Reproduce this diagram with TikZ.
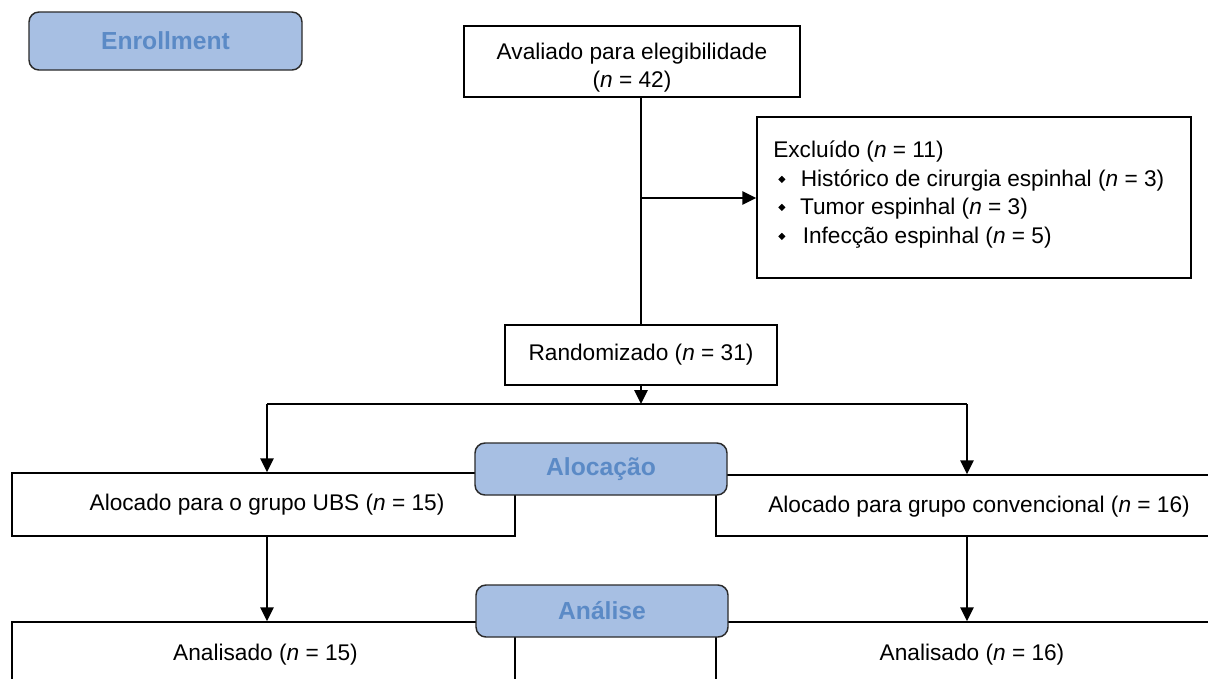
\documentclass[tikz,border=0pt]{standalone}
\usepackage{fontspec}
\setmainfont{Liberation Sans}
\usetikzlibrary{arrows.meta}
\definecolor{hdrfill}{HTML}{A7BFE3}
\definecolor{hdrtext}{HTML}{5B8AC6}
\definecolor{hdrline}{HTML}{2B2B2B}
\newcommand\bul{\raisebox{0.25ex}{\rotatebox{45}{\rule{3.8pt}{3.8pt}}}}
\newcommand\nn{\textit{n}}
\begin{document}
\begin{tikzpicture}[x=0.75pt,y=-0.75pt,
  box/.style={draw=black, line width=1.1pt, inner sep=0pt, font=\fontsize{17}{20}\selectfont},
  hdr/.style={draw=hdrline, fill=hdrfill, rounded corners=7.5pt, line width=1.1pt,
     font=\fontsize{18.5}{22}\selectfont\bfseries, text=hdrtext, inner sep=0pt},
  txt/.style={font=\fontsize{17}{20}\selectfont, inner sep=0pt},
  conn/.style={line width=1.3pt, draw=black},
  arr/.style={conn, -{Triangle[length=10.5pt,width=10pt]}}]
\clip (0,0) rectangle (1208,679);
\fill[white] (0,0) rectangle (1208,679);

% headers (enrollment)
\node[hdr, minimum width=204.75pt, minimum height=43.5pt] (enr) at (165.5,41) {Enrollment};

% top boxes
\node[box, minimum width=252pt, minimum height=53.25pt] (ava) at (632,61.5) {};
\node[txt, align=center, font=\fontsize{17}{21}\selectfont] (avat) at (632,68) {Avaliado para elegibilidade\\(\nn{} = 42)};

\node[box, minimum width=325.5pt, minimum height=120.75pt] (exc) at (974,197.5) {};
\node[txt, anchor=base west] (ex1) at (773,157) {Excluído (\nn{} = 11)};
\node[txt, anchor=base west] (ex2) at (778,186) {\bul\hspace{11.5pt}Histórico de cirurgia espinhal (\nn{} = 3)};
\node[txt, anchor=base west] (ex3) at (778,214) {\bul\hspace{11pt}Tumor espinhal (\nn{} = 3)};
\node[txt, anchor=base west] (ex4) at (778,243) {\bul\hspace{13pt}Infecção espinhal (\nn{} = 5)};

\node[box, minimum width=204pt, minimum height=45pt] (rand) at (641,355) {Randomizado (\nn{} = 31)};

% allocation boxes
\node[box, minimum width=377.25pt, minimum height=47.25pt] (alL) at (263.5,504.5) {};
\node[box, minimum width=393pt, minimum height=45.75pt] (alR) at (978,505.5) {};
\node[txt] (alLt) at (267,505) {Alocado para o grupo UBS (\nn{} = 15)};
\node[txt] (alRt) at (979,507) {Alocado para grupo convencional (\nn{} = 16)};

% analysis boxes
\node[box, minimum width=377.25pt, minimum height=73.5pt] (anL) at (263.5,671) {};
\node[box, minimum width=393pt, minimum height=73.5pt] (anR) at (978,671) {};
\node[txt] (anLt) at (265.5,655) {Analisado (\nn{} = 15)};
\node[txt] (anRt) at (972,655) {Analisado (\nn{} = 16)};

% section headers overlaying the boxes
\node[hdr, minimum width=189pt, minimum height=39pt] (aloc) at (601,469) {Alocação};
\node[hdr, minimum width=189pt, minimum height=39pt] (anal) at (602,611) {Análise};

% connectors
\coordinate (br) at (641,198);
\coordinate (sp) at (641,404);
\coordinate (sl) at (267,404);
\coordinate (sr) at (967,404);
\draw[conn] (rand.north |- ava.south) -- (rand.north);
\draw[arr] (br) -- (exc.west |- br);
\draw[arr] (rand.south) -- (sp);
\draw[conn] (sl) -- (sr);
\draw[arr] (sl) -- (sl |- alL.north);
\draw[arr] (sr) -- (sr |- alR.north);
\draw[arr] (sl |- alL.south) -- (sl |- anL.north);
\draw[arr] (sr |- alR.south) -- (sr |- anR.north);
\end{tikzpicture}
\end{document}
